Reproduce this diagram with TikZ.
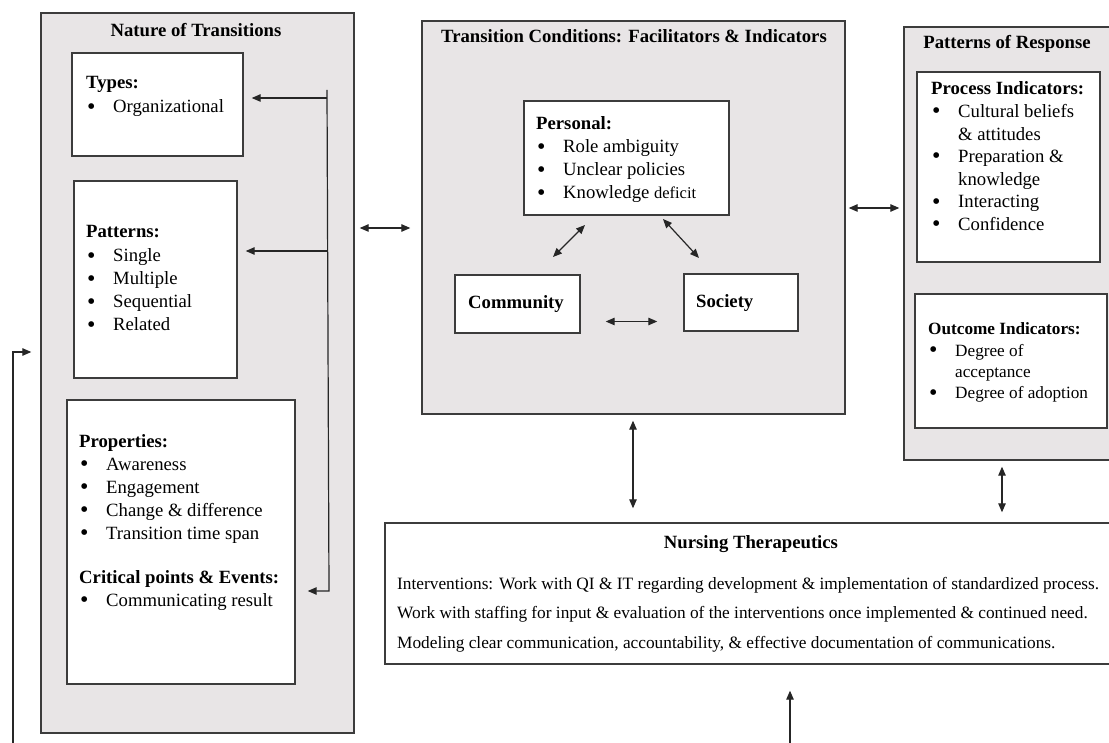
\documentclass[tikz,border=0pt]{standalone}
\usepackage{fontspec}
\setmainfont{Liberation Serif}
\usetikzlibrary{arrows.meta,fit}
\definecolor{panelgray}{RGB}{232,229,230}
\definecolor{edgegray}{RGB}{60,60,60}
\newcommand\itm{\hspace*{1pt}\makebox[26pt][l]{\raisebox{-1.2pt}{\fontsize{24}{23}\selectfont\textbullet}}}
\newcommand\cnt{\hspace*{27pt}}
\newcommand\blk[1]{\begin{tabular}[t]{@{}l@{}}#1\end{tabular}}
\tikzset{
  panel/.style={draw=edgegray, line width=1.4pt, fill=panelgray, inner sep=0pt},
  wbox/.style={draw=edgegray, line width=1.4pt, fill=white, inner sep=0pt},
  txt/.style={inner sep=0pt, anchor=base west, font=\fontsize{18.7}{23}\selectfont},
  ttl/.style={inner sep=0pt, anchor=base, font=\fontsize{18.7}{23}\selectfont\bfseries},
  conn/.style={line width=1.2pt, draw=black!85},
  arr/.style={conn, -{Triangle[length=9pt,width=7.5pt]}},
  darr/.style={conn, {Triangle[length=9pt,width=7.5pt]}-{Triangle[length=9pt,width=7.5pt]}}
}
\begin{document}
\begin{tikzpicture}[x=1pt,y=-1pt]
\useasboundingbox[fill=white] (0,0) rectangle (1109,743);

% ---------- Nature of Transitions ----------
\node[panel, fit={(41,13) (354,733)}] (nt) {};
\node[ttl] (ntt) at (196,37) {Nature of Transitions};
\node[wbox, fit={(72,53) (243,156)}] (types) {};
\node[txt] (typest) at (86,89) {\blk{\textbf{Types:}\\[1pt] \itm Organizational}};
\node[wbox, fit={(74,181) (237,378)}] (pats) {};
\node[txt] (patst) at (86,238) {\blk{\textbf{Patterns:}\\[1pt] \itm Single\\ \itm Multiple\\ \itm Sequential\\ \itm Related}};
\node[wbox, fit={(67,400) (295,684)}] (props) {};
\node[txt] (propst) at (79,447) {\blk{\textbf{Properties:}\\ \itm Awareness\\ \itm Engagement\\ \itm Change \& difference\\ \itm Transition time span\\[21pt] \textbf{Critical points \& Events:}\\ \itm Communicating result}};

% ---------- Transition Conditions ----------
\node[panel, fit={(422,21) (845,414)}] (tc) {};
\node[ttl] (tct) at (634,43) {Transition Conditions: Facilitators \& Indicators};
\node[wbox, fit={(524,101) (729,215)}] (pers) {};
\node[txt] (perst) at (536,130) {\blk{\textbf{Personal:}\\ \itm Role ambiguity\\ \itm Unclear policies\\ \itm Knowledge {\fontsize{16.5}{23}\selectfont deficit}}};
\node[wbox, fit={(455,275) (580,333)}] (comm) {};
\node[txt, font=\fontsize{18.7}{23}\selectfont\bfseries] (commt) at (468,309) {Community};
\node[wbox, fit={(684,274) (798,331)}] (soc) {};
\node[txt, font=\fontsize{18.7}{23}\selectfont\bfseries] (soct) at (696,308) {Society};

% ---------- Patterns of Response ----------
\node[panel, fit={(904,27) (1111,460)}] (pr) {};
\node[ttl] (prt) at (1007,49) {Patterns of Response};
\node[wbox, fit={(917,72) (1100,262)}] (proc) {};
\node[txt, font=\fontsize{18.7}{22.6}\selectfont] (proct) at (931,95) {\blk{\textbf{Process Indicators:}\\ \itm Cultural beliefs\\ \cnt \& attitudes\\ \itm Preparation \&\\ \cnt knowledge\\ \itm Interacting\\ \itm Confidence}};
\node[wbox, fit={(915,294) (1107,428)}] (outc) {};
\node[txt, font=\fontsize{17.2}{21.3}\selectfont] (outct) at (928,335) {\blk{\textbf{Outcome Indicators:}\\ \itm Degree of\\ \cnt acceptance\\ \itm Degree of adoption}};

% ---------- Nursing Therapeutics ----------
\node[wbox, fit={(385,523) (1115,664)}] (nurs) {};
\node[ttl] (nurst) at (751,548) {Nursing Therapeutics};
\node[txt, font=\fontsize{17.3}{29.5}\selectfont] (nursb) at (397,589) {\blk{Interventions: Work with QI \& IT regarding development \& implementation of standardized process.\\ Work with staffing for input \& evaluation of the interventions once implemented \& continued need.\\ Modeling clear communication, accountability, \& effective documentation of communications.}};

% ---------- connectors inside Nature of Transitions ----------
\coordinate (vtop) at (327,90);
\coordinate (vt) at (327,98);
\coordinate (vp) at (327,251);
\coordinate (vbot) at (329,591);
\draw[arr, shorten >=12pt] (vtop) -- (vbot) -- (vbot -| props.east);
\draw[arr, shorten >=8pt] (vt) -- (vt -| types.east);
\draw[arr, shorten >=8pt] (vp) -- (vp -| pats.east);

% ---------- feedback arrow on the left ----------
\coordinate (fb) at (13,746);
\coordinate (fbturn) at (13,352);
\draw[arr, shorten >=9pt] (fb) -- (fbturn) -- (fbturn -| nt.west);

% ---------- bottom arrow ----------
\coordinate (bt) at (790,746);
\draw[arr, shorten >=26pt] (bt) -- (bt |- nurs.south);

% ---------- arrows between panels ----------
\coordinate (a1) at (0,228);
\draw[darr, shorten <=5pt, shorten >=11pt] (a1 -| nt.east) -- (a1 -| tc.west);
\coordinate (a2) at (0,208);
\draw[darr, shorten <=3pt, shorten >=4pt] (a2 -| tc.east) -- (a2 -| pr.west);
\coordinate (a3) at (633,0);
\draw[darr, shorten <=6pt, shorten >=14pt] (a3 |- tc.south) -- (a3 |- nurs.north);
\coordinate (a4) at (1002,0);
\draw[darr, shorten <=6pt, shorten >=10pt] (a4 |- pr.south) -- (a4 |- nurs.north);

% ---------- arrows inside Transition Conditions ----------
\coordinate (pc1) at (585,225);
\coordinate (pc2) at (553,257);
\draw[darr] (pc1) -- (pc2);
\coordinate (ps1) at (663,219);
\coordinate (ps2) at (699,258);
\draw[darr] (ps1) -- (ps2);
\coordinate (cs) at (0,321.5);
\draw[darr, shorten <=25pt, shorten >=26pt] (cs -| comm.east) -- (cs -| soc.west);
\end{tikzpicture}
\end{document}
